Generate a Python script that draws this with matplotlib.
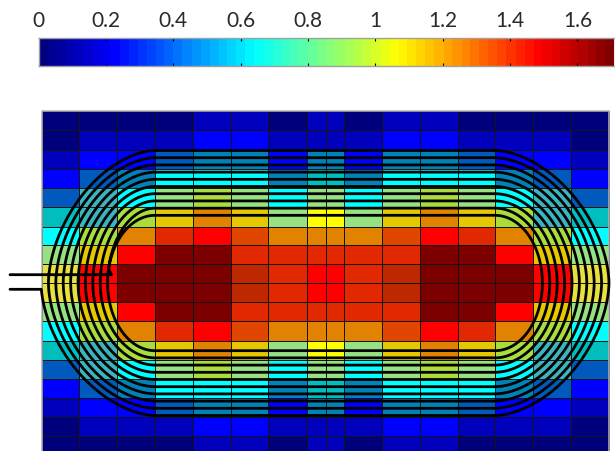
import numpy as np
import matplotlib
matplotlib.use("Agg")
import matplotlib.pyplot as plt
from matplotlib.colors import LinearSegmentedColormap, ListedColormap, BoundaryNorm

plt.rcParams['font.family'] = ['Lato', 'DejaVu Sans']

# colour bar
cbar_ticks = [0, 0.2, 0.4, 0.6, 0.8, 1.0, 1.2, 1.4, 1.6]
cbar_labels = ['0', '0.2', '0.4', '0.6', '0.8', '1', '1.2', '1.4', '1.6']
cbar_max = 1.71

# cell grid, in picture pixels
x_edges = [41.7, 79.3, 117.3, 155.3, 193, 230.7, 268.3, 306.7, 325.5, 343.7,
           382, 420.3, 457.5, 495.3, 533.3, 571.3, 609]
y_edges = [111, 130.3, 149.7, 169, 188.3, 207.3, 226.7, 245, 263.7, 283, 302.3,
           321.3, 340.7, 359.7, 378.7, 397.7, 416.7, 435.7, 455]

# value of each level seen in the cells and its colour
level_values = [.02, .10, .20, .30, .42, .48, .52, .60, .80, .90, 1.00, 1.05, 1.10, 1.20, 1.28, 1.34, 1.42, 1.52, 1.65]
level_colors = ['#00007d', '#0000bd', '#0000ff', '#005abe', '#0082b8', '#3cb4be', '#00bebe', '#00ffff',
                '#96e182', '#aadc3c', '#e8e03c', '#ffff00', '#e6c800', '#e18200', '#e14600', '#e12800',
                '#ff0000', '#be2800', '#7d0000']

# y rows top to bottom, x columns left to right
heat = np.array([
 [.02,.02,.02,.02,.10,.10,.02,.10,.10,.02,.10,.10,.02,.02,.02,.02],
 [.02,.10,.10,.10,.20,.20,.10,.10,.10,.10,.20,.20,.10,.10,.10,.02],
 [.10,.20,.20,.30,.42,.42,.20,.42,.42,.20,.42,.42,.30,.20,.20,.10],
 [.20,.30,.42,.60,.60,.60,.42,.52,.52,.42,.60,.60,.60,.42,.30,.20],
 [.30,.48,.60,.80,.90,.80,.60,.80,.80,.60,.80,.90,.80,.60,.48,.30],
 [.52,.48,.90,1.10,1.20,1.10,.80,1.05,1.05,.80,1.10,1.20,1.10,.90,.48,.52],
 [.60,.90,1.20,1.34,1.42,1.28,1.20,1.20,1.20,1.20,1.28,1.42,1.34,1.20,.90,.60],
 [.80,1.10,1.42,1.65,1.65,1.34,1.34,1.34,1.34,1.34,1.34,1.65,1.65,1.42,1.10,.80],
 [1.00,1.42,1.65,1.65,1.65,1.52,1.34,1.42,1.42,1.34,1.52,1.65,1.65,1.65,1.42,1.00],
 [1.00,1.42,1.65,1.65,1.65,1.52,1.34,1.42,1.42,1.34,1.52,1.65,1.65,1.65,1.42,1.00],
 [.80,1.10,1.42,1.65,1.65,1.34,1.34,1.34,1.34,1.34,1.34,1.65,1.65,1.42,1.10,.80],
 [.60,.90,1.20,1.34,1.42,1.28,1.20,1.20,1.20,1.20,1.28,1.42,1.34,1.20,.90,.60],
 [.52,.48,.90,1.10,1.20,1.10,.80,1.05,1.05,.80,1.10,1.20,1.10,.90,.48,.52],
 [.30,.48,.60,.80,.90,.80,.60,.80,.80,.60,.80,.90,.80,.60,.48,.30],
 [.20,.30,.42,.60,.60,.60,.42,.52,.52,.42,.60,.60,.60,.42,.30,.20],
 [.10,.20,.20,.30,.42,.42,.20,.42,.42,.20,.42,.42,.30,.20,.20,.10],
 [.02,.10,.10,.10,.20,.20,.10,.10,.10,.10,.20,.20,.10,.10,.10,.02],
 [.02,.02,.02,.02,.10,.10,.02,.10,.10,.02,.10,.10,.02,.02,.02,.02],
])

# coil geometry, in picture pixels
coil_cy = 283
coil_left = 155
coil_right = 495
coil_a = [114, 106.6, 99.2, 91.8, 84.4, 77, 69.6, 62.2, 54.8, 47.4]
coil_b = [132.5, 125.3, 118.1, 110.9, 103.7, 96.5, 89.3, 82.1, 74.9, 67.7]
coil_n = [1.75, 1.78, 1.81, 1.83, 1.86, 1.89, 1.92, 1.94, 1.97, 2.0]
lead_inner_y = 274.7
lead_outer_y = 289.3
lead_start_x = 10

# MATLAB-style 64 step jet for the bar
jet_nodes = [(0, (0, 0, .5)), (1/8, (0, 0, 1)), (3/8, (0, 1, 1)), (5/8, (1, 1, 0)),
             (7/8, (1, 0, 0)), (1, (.5, 0, 0))]
bar_cmap = LinearSegmentedColormap.from_list('jet64', jet_nodes, N=64)

fig = plt.figure(figsize=(6.15, 4.51), dpi=100)
ax = fig.add_axes([0, 0, 1, 1])
ax.set_xlim(0, 615)
ax.set_ylim(451, 0)
ax.axis('off')

mids = np.array(level_values)
bounds = np.concatenate([[0], (mids[:-1] + mids[1:]) / 2, [cbar_max]])
ax.pcolormesh(x_edges, y_edges, heat, cmap=ListedColormap(level_colors),
              norm=BoundaryNorm(bounds, len(level_colors)),
              edgecolors='#141414', linewidth=0.7, zorder=1)
ax.plot([x_edges[0], x_edges[0], x_edges[-1], x_edges[-1]],
        [451, y_edges[0], y_edges[0], 451], color='#b4b4b4', lw=1.1, zorder=2)


def arc(cx, a, b, n, t0, t1, steps=60):
    t = np.radians(np.linspace(t0, t1, steps))
    c, s = np.cos(t), np.sin(t)
    return (cx + a * np.sign(c) * np.abs(c) ** (2 / n),
            coil_cy - b * np.sign(s) * np.abs(s) ** (2 / n))


xs, ys = [lead_start_x, coil_left - coil_a[0]], [lead_outer_y, lead_outer_y]
for i, (a, b, n) in enumerate(zip(coil_a, coil_b, coil_n)):
    # lower left, bottom run, right half, top run
    x1, y1 = arc(coil_left, a, b, n, 184, 270)
    x2, y2 = arc(coil_right, a, b, n, -90, 90)
    xs += list(x1) + list(x2)
    ys += list(y1) + list(y2)
    # upper left quarter runs in to the next turn
    if i + 1 < len(coil_a):
        x3, y3 = arc(coil_left, coil_a[i + 1], b, n, 90, 180)
        xs += list(x3)
        ys += list(y3)
    else:
        x3, y3 = arc(coil_left, a, b, n, 90, 168)
        xs += list(x3) + [coil_left - a + 4, lead_start_x]
        ys += list(y3) + [lead_inner_y, lead_inner_y]
ax.plot(xs, ys, color='black', lw=2.0, solid_capstyle='round', zorder=3)

cax = fig.add_axes([38.5 / 615, 1 - 65.5 / 451, (614.5 - 38.5) / 615, 27.5 / 451])
grad = np.linspace(0, cbar_max, 65)
cax.pcolormesh(grad, [0, 1], ((grad[:-1] + grad[1:]) / 2)[None, :], cmap=bar_cmap,
               vmin=0, vmax=cbar_max)
cax.set_xlim(0, cbar_max)
cax.set_ylim(0, 1)
cax.set_yticks([])
cax.set_xticks(cbar_ticks, cbar_labels)
cax.tick_params(axis='x', direction='in', length=2, width=0.8, top=True, bottom=True,
                labeltop=True, labelbottom=False, labelsize=15, pad=5, labelcolor='#2a2a2a')
for s in cax.spines.values():
    s.set_color('#a0a0a0')
    s.set_linewidth(1)

fig.savefig('out.png', dpi=100)
